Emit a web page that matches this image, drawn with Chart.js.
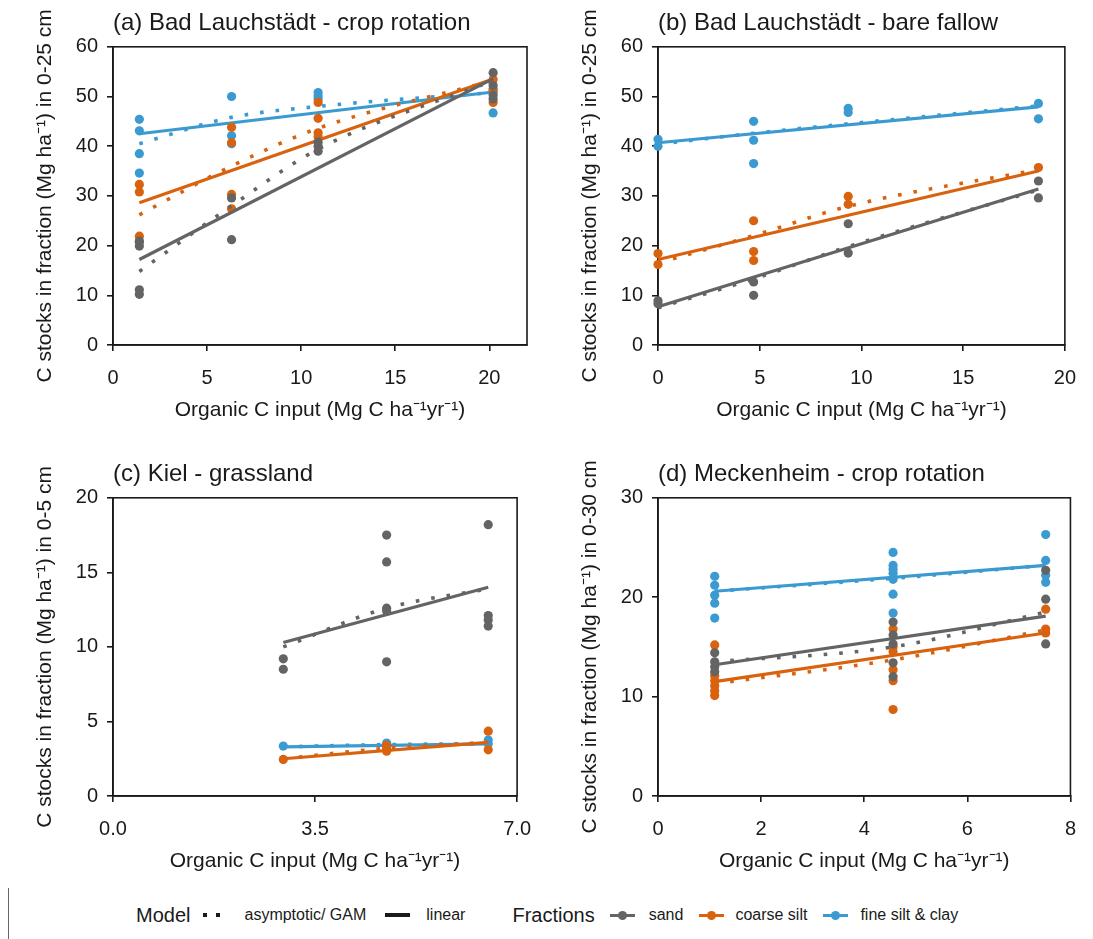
<!DOCTYPE html>
<html>
<head>
<meta charset="utf-8">
<title>C stocks in soil fractions</title>
<script src="https://cdn.jsdelivr.net/npm/chart.js@4.4.1/dist/chart.umd.min.js"></script>
<style>
  body { margin: 0; background: #fff; width: 1093px; height: 939px; position: relative; overflow: hidden;
         font-family: 'Liberation Sans', Arial, sans-serif; color: #1a1a1a; }
  .panel { position: absolute; width: 546px; height: 430px; }
  #legend { position: absolute; left: 136px; top: 903px; height: 24px; display: flex; align-items: center;
            font-size: 16px; white-space: nowrap; }
  #legend .big { font-size: 20px; }
  #legend .dots { display: flex; gap: 9px; }
  #legend .dots i { width: 4px; height: 4px; background: #1a1a1a; display: block; }
  #legend .solid { width: 25px; height: 4px; background: #1a1a1a; }
  #legend .key { width: 25px; height: 3px; position: relative; }
  #legend .key::after { content: ''; position: absolute; left: 8px; top: -3px; width: 9px; height: 9px; border-radius: 50%; background: inherit; }
  #stray { position: absolute; left: 8px; top: 888px; width: 1px; height: 51px; background: #666; }
</style>
</head>
<body>
<div class="panel" style="left:0;top:0"><canvas id="chartA"></canvas></div>
<div class="panel" style="left:545px;top:0"><canvas id="chartB"></canvas></div>
<div class="panel" style="left:0;top:451px"><canvas id="chartC"></canvas></div>
<div class="panel" style="left:545px;top:451px"><canvas id="chartD"></canvas></div>
<div id="stray"></div>
<div id="legend">
  <span class="big">Model</span>
  <span class="dots" style="margin-left:13px"><i></i><i></i></span>
  <span style="margin-left:24px">asymptotic/ GAM</span>
  <span class="solid" style="margin-left:19px"></span>
  <span style="margin-left:16px">linear</span>
  <span class="big" style="margin-left:47px">Fractions</span>
  <span class="key" style="margin-left:15px;background:#646464"></span>
  <span style="margin-left:14px">sand</span>
  <span class="key" style="margin-left:16px;background:#d9620f"></span>
  <span style="margin-left:11px">coarse silt</span>
  <span class="key" style="margin-left:16px;background:#3b9bd1"></span>
  <span style="margin-left:12px">fine silt &amp; clay</span>
</div>
<script>
// (a) Bad Lauchstädt - crop rotation, 0-25 cm
const inputA = [1.4, 6.3, 10.9, 20.2];
const sandA = [[20.9, 19.9, 11.1, 10.2], [29.6, 21.2], [40.8, 40.0, 39.0], [54.8, 52.2, 50.3, 49.5]];
const coarseA = [[32.3, 30.8, 21.9, 20.7], [43.8, 40.7, 30.3, 27.4], [48.8, 45.6, 42.7, 41.9], [53.4, 51.3, 48.8]];
const fineA = [[45.4, 43.1, 38.5, 34.6], [50.0, 42.1, 40.5], [50.8, 50.1, 49.5], [51.5, 50.9, 46.7]];
const sandLinA = [17.2, 53.6];
const coarseLinA = [28.6, 53.5];
const fineLinA = [42.5, 50.9];
const sandGamA = [14.8, 28.0, 39.4, 53.2];
const coarseGamA = [26.2, 36.0, 43.6, 53.2];
const fineGamA = [40.5, 45.8, 48.0, 50.8];

// (b) Bad Lauchstädt - bare fallow, 0-25 cm
const inputB = [0, 4.7, 9.35, 18.7];
const sandB = [[8.9, 8.3], [12.7, 10.0], [24.4, 18.5], [33.0, 29.6]];
const coarseB = [[18.4, 16.2], [25.0, 18.8, 17.0], [29.9, 28.3], [35.7]];
const fineB = [[41.4, 40.0], [45.0, 41.2, 36.5], [47.6, 46.8], [48.6, 45.5]];
const sandLinB = [7.7, 31.4];
const coarseLinB = [17.2, 35.0];
const fineLinB = [40.7, 47.9];
const sandGamB = [7.5, 13.3, 19.8, 31.2];
const coarseGamB = [16.5, 22.0, 27.9, 35.3];
const fineGamB = [40.4, 42.6, 44.5, 48.1];

// (c) Kiel - grassland, 0-5 cm
const inputC = [2.95, 4.74, 6.5];
const sandC = [[9.2, 8.5], [17.5, 15.7, 12.6, 12.4, 9.0], [18.2, 12.1, 11.8, 11.4]];
const coarseC = [[2.45], [3.4, 3.2, 3.0], [4.35, 3.1]];
const fineC = [[3.35], [3.55, 3.4], [3.75, 3.5]];
const sandLinC = [10.3, 14.0];
const coarseLinC = [2.5, 3.6];
const fineLinC = [3.3, 3.5];
const sandGamC = [10.0, 12.6, 13.9];
const coarseGamC = [2.5, 3.2, 3.6];
const fineGamC = [3.3, 3.45, 3.5];

// (d) Meckenheim - crop rotation, 0-30 cm
const inputD = [1.1, 4.56, 7.52];
const sandD = [[14.4, 13.5, 13.0, 12.5], [17.5, 16.2, 15.3, 13.4, 12.0], [22.7, 19.8, 15.3]];
const coarseD = [[15.2, 12.1, 11.6, 11.1, 10.6, 10.1], [16.8, 15.0, 14.5, 12.7, 11.6, 8.7], [18.8, 16.8, 16.4]];
const fineD = [[22.1, 21.2, 20.2, 19.4, 17.9], [24.5, 23.2, 22.8, 22.4, 21.8, 20.3, 18.4], [26.3, 23.7, 22.2, 21.5]];
const sandLinD = [13.2, 18.1];
const coarseLinD = [11.5, 16.4];
const fineLinD = [20.6, 23.2];
const sandGamD = [13.5, 15.0, 18.5];
const coarseGamD = [11.3, 13.7, 16.7];
const fineGamD = [20.6, 21.9, 23.2];

// axis ticks
const xTicksA = [0, 5, 10, 15, 20];
const xTicksB = [0, 5, 10, 15, 20];
const xTicksC = [0, 3.5, 7];
const xTicksD = [0, 2, 4, 6, 8];
const yTicksAB = [0, 10, 20, 30, 40, 50, 60];
const yTicksC = [0, 5, 10, 15, 20];
const yTicksD = [0, 10, 20, 30];

const ink = '#1a1a1a';
const colSand = '#646464', colCoarse = '#d9620f', colFine = '#3b9bd1';
const xTitle = 'Organic C input (Mg C ha\u207B\u00B9yr\u207B\u00B9)';

Chart.defaults.font.family = "'Liberation Sans', Arial, sans-serif";
Chart.defaults.color = ink;

// box round the plot area
const frame = {
  id: 'frame',
  beforeDatasetsDraw(chart) {
    const a = chart.chartArea, c = chart.ctx;
    c.save();
    c.strokeStyle = ink;
    c.lineWidth = 1.6;
    c.strokeRect(a.left, a.top, a.right - a.left, a.bottom - a.top);
    c.restore();
  }
};

function pts(xs, groups) {
  const out = [];
  groups.forEach((g, i) => g.forEach(y => out.push({ x: xs[i], y })));
  return out;
}

function fraction(xs, obs, lin, gam, color) {
  return [
    { data: pts(xs, obs), showLine: false, pointRadius: 4.6, borderWidth: 0,
      backgroundColor: color, borderColor: color, clip: false },
    { data: [{ x: xs[0], y: lin[0] }, { x: xs[xs.length - 1], y: lin[1] }], showLine: true,
      pointRadius: 0, borderWidth: 3.2, borderColor: color, clip: false },
    { data: xs.map((x, i) => ({ x, y: gam[i] })), showLine: true, pointRadius: 0,
      borderWidth: 3.6, borderDash: [3.6, 12], borderColor: color,
      cubicInterpolationMode: 'monotone', clip: false }
  ];
}

function makePanel(id, title, depth, xr, xTicks, xDec, yr, yTicks, series) {
  new Chart(document.getElementById(id), {
    type: 'scatter',
    data: { datasets: series.flat() },
    plugins: [frame],
    options: {
      responsive: true,
      maintainAspectRatio: false,
      animation: false,
      events: [],
      layout: { padding: { left: 0, right: 19, top: 0, bottom: 0 } },
      plugins: {
        legend: { display: false },
        tooltip: { enabled: false },
        title: { display: true, text: title, align: 'start', fullSize: false, color: ink,
                 font: { size: 24, weight: 'normal' }, padding: { top: 9, bottom: 9 } }
      },
      scales: {
        x: {
          type: 'linear', min: xr[0], max: xr[1],
          afterBuildTicks: s => { s.ticks = xTicks.map(v => ({ value: v })); },
          afterFit: s => { s.height = 85; },
          ticks: { font: { size: 20 }, color: ink, padding: 15, maxRotation: 0,
                   callback: v => v.toFixed(xDec) },
          grid: { display: true, drawOnChartArea: false, drawTicks: true, tickLength: 6, color: ink, lineWidth: 1.6 },
          border: { display: true, color: ink, width: 1.6 },
          title: { display: true, text: xTitle, color: ink, font: { size: 21 }, padding: { top: 0, bottom: 7 } }
        },
        y: {
          type: 'linear', min: yr[0], max: yr[1],
          afterBuildTicks: s => { s.ticks = yTicks.map(v => ({ value: v })); },
          afterFit: s => { s.width = 113; },
          ticks: { font: { size: 20 }, color: ink, padding: 9 },
          grid: { display: true, drawOnChartArea: false, drawTicks: true, tickLength: 6, color: ink, lineWidth: 1.6 },
          border: { display: true, color: ink, width: 1.6 },
          title: { display: true, text: 'C stocks in fraction (Mg ha\u207B\u00B9) in ' + depth, color: ink,
                   font: { size: 21 }, padding: { top: 33, bottom: 0 } }
        }
      }
    }
  });
}

makePanel('chartA', '(a) Bad Lauchstädt - crop rotation', '0-25 cm', [0, 22], xTicksA, 0, [0, 60], yTicksAB, [
  fraction(inputA, sandA, sandLinA, sandGamA, colSand),
  fraction(inputA, coarseA, coarseLinA, coarseGamA, colCoarse),
  fraction(inputA, fineA, fineLinA, fineGamA, colFine)
]);

makePanel('chartB', '(b) Bad Lauchstädt - bare fallow', '0-25 cm', [0, 20], xTicksB, 0, [0, 60], yTicksAB, [
  fraction(inputB, sandB, sandLinB, sandGamB, colSand),
  fraction(inputB, coarseB, coarseLinB, coarseGamB, colCoarse),
  fraction(inputB, fineB, fineLinB, fineGamB, colFine)
]);

makePanel('chartC', '(c) Kiel - grassland', '0-5 cm', [0, 7], xTicksC, 1, [0, 20], yTicksC, [
  fraction(inputC, sandC, sandLinC, sandGamC, colSand),
  fraction(inputC, coarseC, coarseLinC, coarseGamC, colCoarse),
  fraction(inputC, fineC, fineLinC, fineGamC, colFine)
]);

makePanel('chartD', '(d) Meckenheim - crop rotation', '0-30 cm', [0, 8], xTicksD, 0, [0, 30], yTicksD, [
  fraction(inputD, sandD, sandLinD, sandGamD, colSand),
  fraction(inputD, coarseD, coarseLinD, coarseGamD, colCoarse),
  fraction(inputD, fineD, fineLinD, fineGamD, colFine)
]);
</script>
</body>
</html>
